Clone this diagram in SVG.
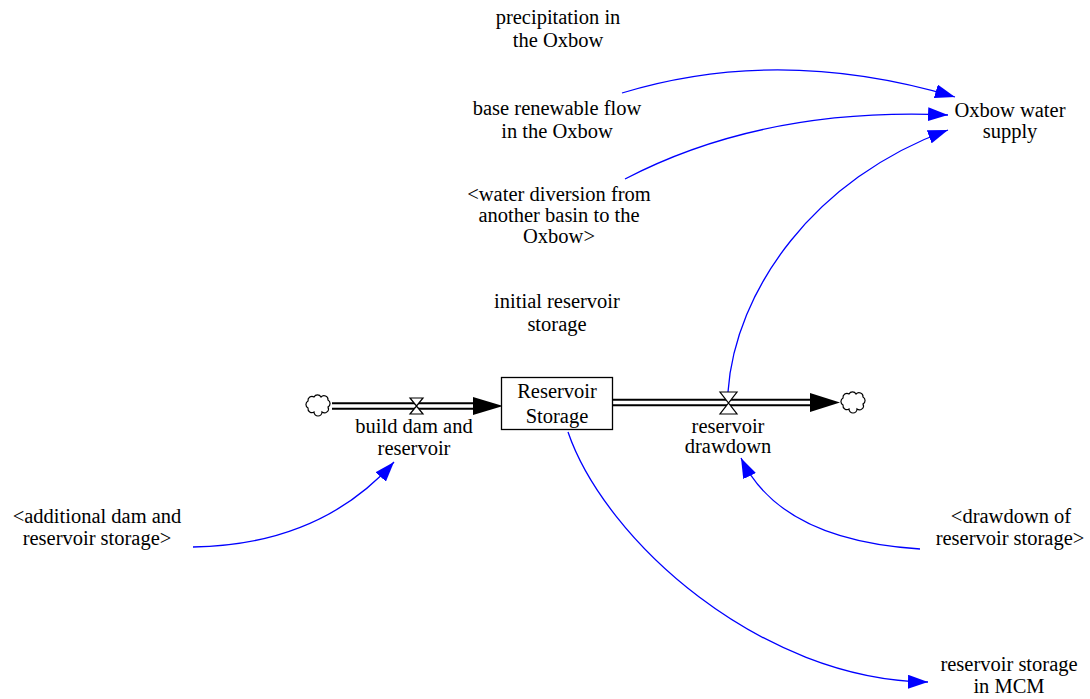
<svg xmlns="http://www.w3.org/2000/svg" width="1090" height="699" viewBox="0 0 1090 699" font-family="Liberation Serif, DejaVu Serif, serif">
  <style>
    text { font-family: 'Liberation Serif', 'DejaVu Serif', serif; font-size: 20.5px; fill: #000; text-anchor: middle; }
    .link { fill: none; stroke: #0000ff; stroke-width: 1.3; marker-end: url(#arrow); }
    .pipe-out { fill: none; stroke: #000; stroke-width: 7.5; }
    .pipe-in { fill: none; stroke: #fff; stroke-width: 3.5; }
    .valve { fill: #fff; stroke: #000; stroke-width: 1.2; stroke-linejoin: miter; }
    .cloud { fill: #fff; stroke: #000; stroke-width: 1.2; }
    .head { fill: #000; }
  </style>
  <defs>
    <marker id="arrow" markerUnits="userSpaceOnUse" markerWidth="20" markerHeight="14" refX="20" refY="7" orient="auto">
      <path d="M0,0 L20,7 L0,14 Z" fill="#0000ff"/>
    </marker>
    <path id="cloudShape" d="M-10,3 a4,4 0 0 1 0,-7 a4,4 0 0 1 6,-4 a4,4 0 0 1 7,0 a4,4 0 0 1 7,3 a4,4 0 0 1 0,7 a4,4 0 0 1 -6,5 a4,4 0 0 1 -8,0 a4,4 0 0 1 -6,-4 Z"/>
  </defs>

  <rect width="1090" height="699" fill="#fff"/>

  <!-- information links -->
  <g id="connectors">
    <path class="link" d="M622,93 Q780,45 955,97"/>
    <path class="link" d="M625,179 Q763,107 948,115"/>
    <path class="link" d="M728,392 C735,290 815,178 948,130"/>
    <path class="link" d="M193,547 Q320,545 394,462"/>
    <path class="link" d="M920,549 Q780,540 741,458"/>
    <path class="link" d="M568,432 C605,540 760,680 928,682"/>
  </g>

  <!-- inflow pipe: source cloud to stock -->
  <g id="build-dam-and-reservoir">
    <line class="pipe-out" x1="332" y1="406" x2="476" y2="406"/>
    <line class="pipe-in" x1="330" y1="406" x2="478" y2="406"/>
    <polygon class="head" points="473,397 503,406 473,415"/>
    <path class="valve" d="M410,398 L423,398 L410,414 L423,414 Z"/>
    <text x="414" y="433">build dam and</text>
    <text x="414" y="455">reservoir</text>
  </g>
  <g id="source-cloud">
    <use href="#cloudShape" class="cloud" x="318" y="405"/>
  </g>

  <!-- outflow pipe: stock to sink cloud -->
  <g id="reservoir-drawdown">
    <line class="pipe-out" x1="613" y1="402.5" x2="812" y2="402.5"/>
    <line class="pipe-in" x1="613" y1="402.5" x2="814" y2="402.5"/>
    <polygon class="head" points="810,393 840,402.5 810,412"/>
    <path class="valve" d="M720,392 L737,392 L720,414 L737,414 Z"/>
    <text x="728" y="433">reservoir</text>
    <text x="728" y="453">drawdown</text>
  </g>
  <g id="sink-cloud">
    <use href="#cloudShape" class="cloud" x="853" y="402"/>
  </g>

  <g id="reservoir-storage">
    <rect x="501.5" y="377.5" width="111" height="52" fill="#fff" stroke="#000" stroke-width="1.3"/>
    <text x="557" y="398">Reservoir</text>
    <text x="557" y="423">Storage</text>
  </g>

  <g id="precipitation-in-the-oxbow">
    <text x="558" y="24">precipitation in</text>
    <text x="558" y="47">the Oxbow</text>
  </g>

  <g id="base-renewable-flow">
    <text x="557" y="115">base renewable flow</text>
    <text x="557" y="138">in the Oxbow</text>
  </g>

  <g id="water-diversion">
    <text x="559" y="201">&lt;water diversion from</text>
    <text x="559" y="222">another basin to the</text>
    <text x="559" y="243">Oxbow&gt;</text>
  </g>

  <g id="initial-reservoir-storage">
    <text x="557" y="308">initial reservoir</text>
    <text x="557" y="331">storage</text>
  </g>

  <g id="oxbow-water-supply">
    <text x="1010" y="117">Oxbow water</text>
    <text x="1010" y="138">supply</text>
  </g>

  <g id="additional-dam-storage">
    <text x="97" y="523">&lt;additional dam and</text>
    <text x="97" y="545">reservoir storage&gt;</text>
  </g>

  <g id="drawdown-of-storage">
    <text x="1011" y="523">&lt;drawdown of</text>
    <text x="1010" y="545">reservoir storage&gt;</text>
  </g>

  <g id="reservoir-storage-in-mcm">
    <text x="1009" y="671">reservoir storage</text>
    <text x="1009" y="693">in MCM</text>
  </g>
</svg>
